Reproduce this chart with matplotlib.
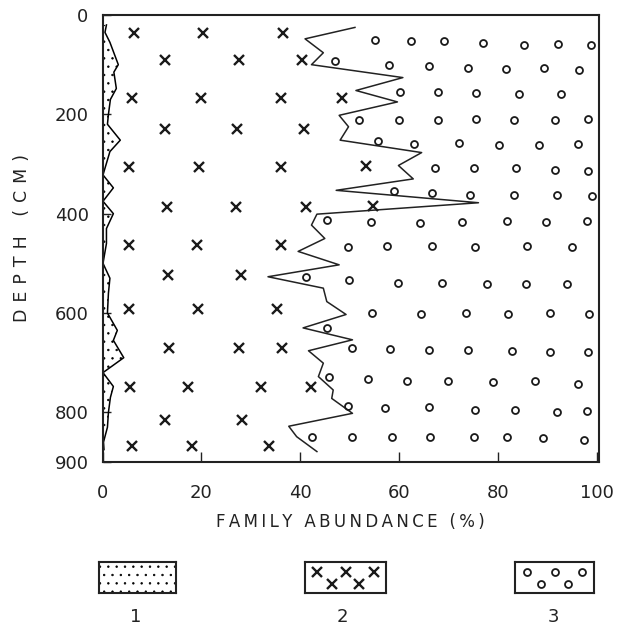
import matplotlib
matplotlib.use("Agg")
import matplotlib.pyplot as plt

# ---- data (depth in cm, abundance in %) ----
# family 1 boundary (stippled zone at the left)
fam1_depth = [20, 35, 55, 100, 115, 148, 170, 200, 220, 252, 275, 322, 348, 375,
              400, 430, 460, 500, 530, 560, 600, 635, 655, 690, 720, 748, 770,
              800, 830, 860, 875]
fam1_pct = [0.8, 0.5, 1.5, 3.2, 2.3, 2.8, 1.6, 1.2, 1.0, 3.6, 1.5, 0.1, 2.2, 0.1,
            2.2, 0.8, 0.8, 0.1, 1.5, 1.2, 1.0, 3.0, 2.2, 4.3, 0.1, 2.2, 1.6,
            1.2, 1.0, 0.2, 0.3]

# cumulative boundary between family 2 and family 3
bound_depth = [25, 48, 76, 100, 126, 152, 175, 202, 225, 252, 277, 303, 330, 353,
               378, 401, 423, 450, 476, 503, 527, 550, 577, 603, 630, 654, 676,
               701, 728, 755, 772, 802, 828, 849, 879]
bound_pct = [51.1, 41.0, 44.7, 42.3, 60.8, 51.3, 59.7, 47.9, 49.8, 48.1, 64.6,
             59.9, 62.9, 47.3, 76.1, 43.4, 42.3, 45.0, 39.6, 47.9, 33.5, 44.7,
             45.4, 49.3, 40.6, 50.6, 41.7, 44.7, 43.7, 46.7, 46.4, 50.6, 37.7,
             39.3, 43.4]

# family 2 symbols (x)
fam2_pct = [6.3, 20.3, 36.5, 12.6, 27.6, 40.3, 6.0, 19.9, 36.1, 48.4, 12.6, 27.3,
            40.8, 5.3, 19.5, 36.1, 53.3, 13.1, 27.1, 41.2, 54.8, 5.3, 19.2, 36.1,
            13.3, 28.0, 5.3, 19.3, 35.4, 13.4, 27.6, 36.3, 5.6, 17.3, 32.0, 42.3,
            12.6, 28.2, 6.0, 18.1, 33.8]
fam2_depth = [36, 36, 36, 90, 90, 90, 167, 167, 167, 168, 230, 230, 230, 306, 306,
              306, 305, 387, 387, 387, 385, 463, 463, 463, 523, 523, 592, 592, 592,
              671, 671, 671, 748, 748, 748, 749, 815, 815, 867, 867, 867]

# family 3 symbols (o)
fam3_pct = [55.2, 62.4, 69.1, 77.1, 85.3, 92.3, 98.8,
            47.1, 57.9, 66.0, 73.9, 81.6, 89.4, 96.5,
            60.2, 68.0, 75.7, 84.3, 92.8,
            52.0, 60.1, 68.0, 75.6, 83.2, 91.5, 98.2,
            55.7, 63.1, 72.2, 80.3, 88.4, 96.2,
            67.4, 75.2, 83.8, 91.6, 98.2,
            59.0, 66.6, 74.4, 83.2, 91.9, 99.0,
            45.4, 54.3, 64.3, 72.7, 81.9, 89.7, 98.0,
            49.6, 57.5, 66.6, 75.4, 86.0, 95.0,
            41.1, 49.8, 59.9, 68.8, 77.8, 85.7, 94.0,
            54.5, 64.5, 73.5, 82.0, 90.6, 98.5,
            45.5,
            50.6, 58.2, 66.0, 73.9, 82.8, 90.6, 98.2,
            45.9, 53.7, 61.6, 70.0, 79.1, 87.6, 96.2,
            49.6, 57.2, 66.0, 75.3, 83.5, 91.9, 98.0,
            42.5, 50.6, 58.7, 66.3, 75.1, 81.8, 89.1, 97.5]
fam3_depth = [50, 52, 53, 56, 60, 59, 61,
              93, 101, 103, 107, 109, 106, 110,
              156, 156, 157, 159, 160,
              211, 211, 212, 210, 212, 211, 210,
              254, 259, 258, 261, 261, 260,
              308, 309, 309, 313, 314,
              354, 358, 362, 362, 362, 364,
              413, 417, 419, 417, 415, 417, 415,
              468, 466, 466, 468, 466, 468,
              528, 533, 539, 539, 542, 542, 542,
              599, 602, 599, 602, 601, 603,
              630,
              671, 673, 674, 674, 676, 679, 678,
              729, 733, 737, 737, 738, 737, 743,
              787, 791, 790, 795, 795, 799, 797,
              849, 849, 850, 849, 849, 850, 851, 856]

x_ticks = [0, 20, 40, 60, 80, 100]
y_ticks = [0, 200, 400, 600, 800, 900]
legend_labels = ["1", "2", "3"]

plt.rcParams["font.family"] = ["DejaVu Sans"]
plt.rcParams["hatch.linewidth"] = 0.5
W = 626.0


def spaced(s, sep="\u2009"):
    return sep.join(s)


fig = plt.figure(figsize=(6.26, 6.26), dpi=100)
ax = fig.add_axes([102.5 / W, 1 - 462 / W, (599 - 102.5) / W, (462 - 15) / W])

# stippled family 1
ax.fill_betweenx(fam1_depth, 0, fam1_pct, facecolor="none", edgecolor="black",
                 hatch="..", linewidth=0)
ax.plot(fam1_pct, fam1_depth, color="black", lw=1.1)

# family 2/3 boundary
ax.plot(bound_pct, bound_depth, color="#222222", lw=1.1)

ax.plot(fam2_pct, fam2_depth, ls="none", marker="x", ms=6.5, mew=1.7, color="#1a1a1a")
ax.plot(fam3_pct, fam3_depth, ls="none", marker="o", ms=5, mew=1.3,
        mfc="none", mec="#1a1a1a")

ax.set_xlim(0, 100.5)
ax.set_ylim(900, 0)
ax.set_xticks(x_ticks)
ax.set_yticks(y_ticks)
ax.tick_params(axis="x", direction="in", length=7, width=1, pad=16, labelsize=13,
               colors="#222222")
ax.tick_params(axis="y", direction="in", length=6, width=1, pad=10, labelsize=13,
               colors="#222222")
for sp in ax.spines.values():
    sp.set_linewidth(1.5)
    sp.set_color("#222222")

fig.text(350 / W, 1 - 522 / W, spaced("FAMILY ABUNDANCE (%)"), ha="center",
         va="center", fontsize=12, color="#222222")
fig.text(22 / W, 1 - 238 / W, spaced("DEPTH (CM)", "\u2009\u2009"), ha="center",
         va="center", fontsize=12.5, rotation=90, color="#222222")

# legend swatches
boxes = [(99, 176), (305, 386), (515, 594)]
label_x = [136, 342, 553]
swatches = []
for left, right in boxes:
    lax = fig.add_axes([left / W, 1 - 593 / W, (right - left) / W, 31 / W])
    lax.set_xlim(0, 1)
    lax.set_ylim(0, 1)
    lax.set_xticks([])
    lax.set_yticks([])
    for sp in lax.spines.values():
        sp.set_linewidth(1.5)
        sp.set_color("#222222")
    swatches.append(lax)

swatches[0].fill_between([0, 1], 0, 1, facecolor="none", edgecolor="black",
                         hatch="..", linewidth=0)
pat_x = [0.15, 0.5, 0.85, 0.33, 0.67]
pat_y = [0.68, 0.68, 0.68, 0.28, 0.28]
swatches[1].plot(pat_x, pat_y, ls="none", marker="x", ms=6.5, mew=1.7, color="#1a1a1a")
swatches[2].plot(pat_x, pat_y, ls="none", marker="o", ms=5, mew=1.3,
                 mfc="none", mec="#1a1a1a")

for lx, lab in zip(label_x, legend_labels):
    fig.text(lx / W, 1 - 617 / W, lab, ha="center", va="center", fontsize=13,
             color="#222222")

fig.savefig("out.png", dpi=100)
